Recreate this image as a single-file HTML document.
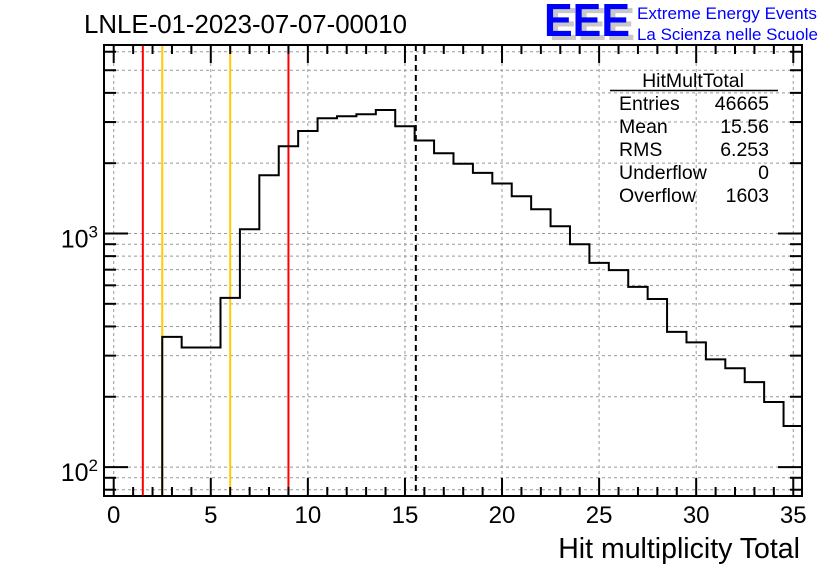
<!DOCTYPE html>
<html><head><meta charset="utf-8"><style>
body{margin:0;background:#fff;}
svg{display:block;font-family:"Liberation Sans",sans-serif;}
</style></head><body>
<svg id="chart" width="836" height="572" viewBox="0 0 836 572">
<g id="grid"></g>
<g id="markers"></g>
<path id="hist" fill="none" stroke="#000" stroke-width="2"></path>
<g id="axes"></g>
<text x="84" y="33" font-size="25.5" textLength="323" lengthAdjust="spacingAndGlyphs">LNLE-01-2023-07-07-00010</text>
<g>
<text x="549" y="40" font-size="46" font-weight="bold" fill="#c8c8c8" textLength="86" lengthAdjust="spacingAndGlyphs">EEE</text>
<text x="544" y="36" font-size="46" font-weight="bold" fill="#0000ff" textLength="86" lengthAdjust="spacingAndGlyphs">EEE</text>
<text x="637" y="19" font-size="17" fill="#0000ff" textLength="180" lengthAdjust="spacingAndGlyphs">Extreme Energy Events</text>
<text x="637" y="40" font-size="17" fill="#0000ff" textLength="181" lengthAdjust="spacingAndGlyphs">La Scienza nelle Scuole</text>
</g>
<g font-size="19.5">
<text x="693" y="87" text-anchor="middle">HitMultTotal</text>
<line x1="610" y1="90.5" x2="778" y2="90.5" stroke="#000" stroke-width="1.5"/>
<text x="619" y="110">Entries</text><text x="769" y="110" text-anchor="end">46665</text>
<text x="619" y="133">Mean</text><text x="769" y="133" text-anchor="end">15.56</text>
<text x="619" y="156">RMS</text><text x="769" y="156" text-anchor="end">6.253</text>
<text x="619" y="179">Underflow</text><text x="769" y="179" text-anchor="end">0</text>
<text x="619" y="202">Overflow</text><text x="769" y="202" text-anchor="end">1603</text>
</g>
<text x="800" y="558" font-size="28.5" text-anchor="end">Hit multiplicity Total</text>
</svg>
<script>
const binCenters = [3,4,5,6,7,8,9,10,11,12,13,14,15,16,17,18,19,20,21,22,23,24,25,26,27,28,29,30,31,32,33,34,35];
const binCounts = [361,325,325,530,1043,1776,2364,2748,3114,3177,3239,3380,2878,2500,2206,1990,1817,1637,1444,1270,1074,900,749,697,591,524,379,342,289,265,231,190,150];
const xTickLabels = [0,5,10,15,20,25,30,35];
const redLines = [1.5,9];
const yellowLines = [2.5,6];
const meanValue = 15.56;

const L=104,R=802,T=45,B=496, XMIN=-0.5,XMAX=35.45, YMIN=75.2,YMAX=6412;
const NS='http://www.w3.org/2000/svg';
function sx(v){return L+(v-XMIN)/(XMAX-XMIN)*(R-L);}
function sy(v){return B-(Math.log10(v)-Math.log10(YMIN))/(Math.log10(YMAX)-Math.log10(YMIN))*(B-T);}
function mk(tag,attrs,parent){const e=document.createElementNS(NS,tag);for(const k in attrs)e.setAttribute(k,attrs[k]);parent.appendChild(e);return e;}
const grid=document.getElementById('grid'),axes=document.getElementById('axes'),markers=document.getElementById('markers');
xTickLabels.forEach(v=>{const g=mk('line',{x1:sx(v),x2:sx(v),y1:T,y2:B,stroke:'#999','stroke-dasharray':'3,3','stroke-width':1},grid);

});
const yGridVals=[];for(let d=10;d<=1000;d*=10)for(let m=1;m<=9;m++){const v=m*d;if(v>=YMIN&&v<=YMAX)yGridVals.push(v);}
yGridVals.forEach(v=>{const g=mk('line',{x1:L,x2:R,y1:sy(v),y2:sy(v),stroke:'#999','stroke-dasharray':'3,3','stroke-width':1},grid);

});
function vline(v,color,dash,name){const l=mk('line',{x1:sx(v),x2:sx(v),y1:T,y2:B,stroke:color,'stroke-width':2},markers);if(dash)l.setAttribute('stroke-dasharray',dash);

}
redLines.forEach(v=>vline(v,'#ff0000',null,'red-threshold-line'));
yellowLines.forEach(v=>vline(v,'#ffcc00',null,'yellow-threshold-line'));
vline(meanValue,'#000','6,4','mean-line');
let d='M'+sx(binCenters[0]-0.5)+','+B;
binCenters.forEach((c,i)=>{const y=sy(binCounts[i]);d+=' L'+sx(c-0.5)+','+y+' L'+Math.min(sx(c+0.5),R)+','+y;});
document.getElementById('hist').setAttribute('d',d);
const fr=mk('rect',{x:L,y:T,width:R-L,height:B-T,fill:'none',stroke:'#000','stroke-width':2},axes);


for(let v=0;v<=35;v++){const big=v%5===0,len=big?18:9;
mk('line',{x1:sx(v),x2:sx(v),y1:B,y2:B-len,stroke:'#000','stroke-width':2},axes);
mk('line',{x1:sx(v),x2:sx(v),y1:T,y2:T+len,stroke:'#000','stroke-width':2},axes);}
xTickLabels.forEach(v=>{const t=mk('text',{x:sx(v),y:523,'font-size':24,'text-anchor':'middle'},axes);t.textContent=v;

});
yGridVals.forEach(v=>{const big=(v===100||v===1000),len=big?24:12;
mk('line',{x1:L,x2:L+len,y1:sy(v),y2:sy(v),stroke:'#000','stroke-width':2},axes);
mk('line',{x1:R,x2:R-len,y1:sy(v),y2:sy(v),stroke:'#000','stroke-width':2},axes);});
[[100,'2'],[1000,'3']].forEach(([v,e])=>{const t=mk('text',{x:98,y:sy(v)+14,'font-size':25,'text-anchor':'end'},axes);
t.innerHTML='10<tspan dy="-10" font-size="17">'+e+'</tspan>';

});
</script>
</body></html>
